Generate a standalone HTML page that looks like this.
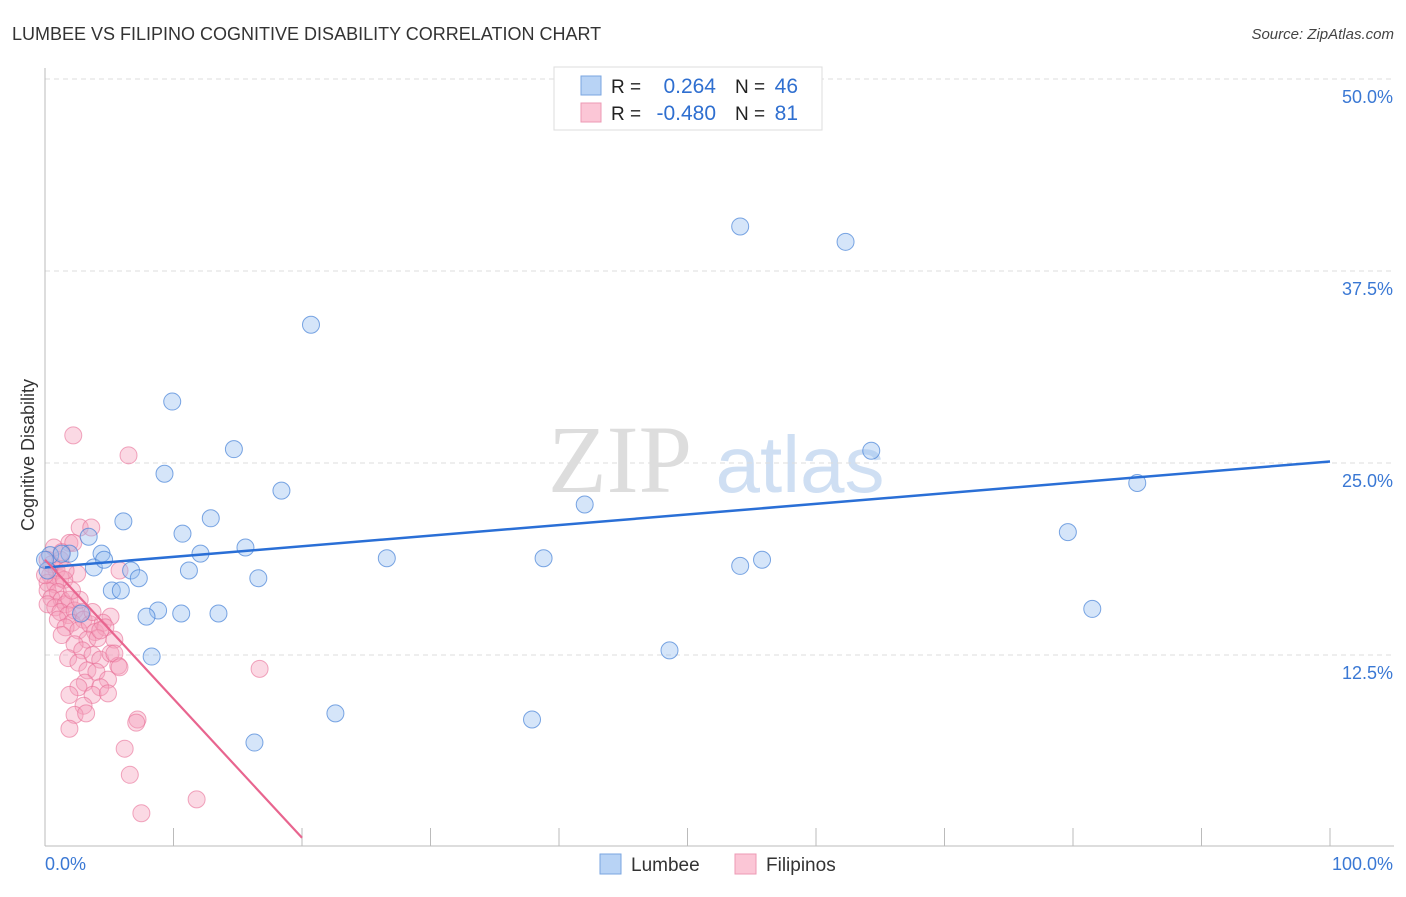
<!DOCTYPE html>
<html><head><meta charset="utf-8"><style>
body{margin:0;background:#fff;font-family:"Liberation Sans",sans-serif}
</style></head><body>
<svg width="1406" height="892" xmlns="http://www.w3.org/2000/svg" style="font-family:'Liberation Sans',sans-serif">
<text x="12" y="40" font-size="18" fill="#333">LUMBEE VS FILIPINO COGNITIVE DISABILITY CORRELATION CHART</text>
<text x="1394" y="39" font-size="15" fill="#444" text-anchor="end" font-style="italic">Source: ZipAtlas.com</text>
<text x="620" y="492" font-size="96" fill="#ddd" font-family="Liberation Serif,serif" text-anchor="middle">ZIP</text>
<text x="800" y="492" font-size="80" fill="#cfdff3" text-anchor="middle">atlas</text>
<text transform="translate(34,455) rotate(-90)" font-size="18" fill="#333" text-anchor="middle">Cognitive Disability</text>
<g id="grid"></g><g id="axes"></g><g id="pink"></g><g id="blue"></g><g id="lines"></g>
<g>
<rect x="554" y="67" width="268" height="63" fill="#fff" stroke="#ddd"/>
<rect x="581" y="76" width="20" height="19" fill="#b8d3f5" stroke="#7aa6e0"/>
<rect x="581" y="103" width="20" height="19" fill="#fbc6d6" stroke="#ec9ab4"/>
<text x="611" y="93" font-size="19" fill="#222">R =</text><text x="716" y="93" font-size="21" fill="#2f6fd0" text-anchor="end">0.264</text>
<text x="735" y="93" font-size="19" fill="#222">N =</text><text x="798" y="93" font-size="21" fill="#2f6fd0" text-anchor="end">46</text>
<text x="611" y="120" font-size="19" fill="#222">R =</text><text x="716" y="120" font-size="21" fill="#2f6fd0" text-anchor="end">-0.480</text>
<text x="735" y="120" font-size="19" fill="#222">N =</text><text x="798" y="120" font-size="21" fill="#2f6fd0" text-anchor="end">81</text>
</g>
<g>
<rect x="600" y="854" width="21" height="20" fill="#b8d3f5" stroke="#7aa6e0"/>
<text x="631" y="871" font-size="19" fill="#333">Lumbee</text>
<rect x="735" y="854" width="21" height="20" fill="#fbc6d6" stroke="#ec9ab4"/>
<text x="766" y="871" font-size="19" fill="#333">Filipinos</text>
</g>
</svg>
<script>
const yTicks=[12.5,25,37.5,50];
const yTickLabels=["12.5%","25.0%","37.5%","50.0%"];
const xTickLabels=["0.0%","100.0%"];
const blueX=[54.1,62.3,20.7,9.9,14.7,64.3,9.3,18.4,85.0,42.0,6.1,12.9,10.7,3.4,79.6,1.9,4.4,12.1,15.6,26.6,38.8,55.8,54.1,3.8,4.6,6.7,11.2,7.3,16.6,5.2,5.9,8.8,7.9,10.6,13.5,2.8,81.5,8.3,48.6,22.6,37.9,16.3,0.4,1.3,0.2,0];
const blueY=[40.4,39.4,34.0,29.0,25.9,25.8,24.3,23.2,23.7,22.3,21.2,21.4,20.4,20.2,20.5,19.1,19.1,19.1,19.5,18.8,18.8,18.7,18.3,18.2,18.7,18.0,18.0,17.5,17.5,16.7,16.7,15.4,15.0,15.2,15.2,15.2,15.5,12.4,12.8,8.7,8.3,6.8,19.0,19.1,18.0,18.7];
const pinkX=[2.2,6.5,2.7,3.6,1.9,2.2,5.8,2.5,0.2,0.5,0.9,0.4,1.2,0.2,0.8,1.5,0.2,1.0,0.5,1.3,0.2,0.8,1.6,1.9,1.2,1.8,2.3,2.9,1.0,2.1,3.0,1.6,2.6,3.5,3.9,5.1,4.5,4.7,1.3,3.3,2.3,4.1,5.4,1.8,2.9,3.7,4.3,5.1,5.7,2.6,3.3,4.0,4.9,5.4,5.8,3.1,2.6,4.3,3.7,1.9,4.9,3.0,2.3,3.2,1.9,7.2,7.1,6.2,6.6,7.5,11.8,16.7,3.7,1.2,1.6,0.7,1.3,4.3,2.7,2.1,0];
const pinkY=[26.8,25.5,20.8,20.8,19.8,19.8,18.0,17.8,18.7,18.4,18.0,17.7,17.5,17.2,17.1,17.4,16.7,16.6,16.2,16.1,15.8,15.6,15.8,16.1,15.3,15.1,15.4,15.3,14.8,14.6,14.8,14.3,14.1,14.5,14.0,15.0,14.6,14.3,13.8,13.5,13.2,13.6,13.5,12.3,12.8,12.5,12.2,12.6,11.8,12.0,11.5,11.4,10.9,12.6,11.7,10.7,10.4,10.4,9.9,9.9,10.0,9.2,8.6,8.7,7.7,8.3,8.1,6.4,4.7,2.2,3.1,11.6,15.3,18.7,18.0,19.5,19.2,14.1,16.1,16.7,17.7];
const blueLine=[0,18.2,100,25.1];
const pinkLine=[0,18.7,20,0.6];
const NS="http://www.w3.org/2000/svg";
const sx=v=>45+v*12.85, sy=v=>847-v*15.36;
function mk(tag,attrs,parent){const e=document.createElementNS(NS,tag);for(const k in attrs)e.setAttribute(k,attrs[k]);parent.appendChild(e);return e;}
const grid=document.getElementById('grid'),axes=document.getElementById('axes');
yTicks.forEach((t,i)=>{
 const l=mk('line',{x1:45,x2:1394,y1:sy(t),y2:sy(t),stroke:'#ddd','stroke-dasharray':'5,4'},grid);
 
 
 const tx=mk('text',{x:1393,y:sy(t)+24,'font-size':18,fill:'#3a78d4','text-anchor':'end'},axes);
 tx.textContent=yTickLabels[i];
 
 
});
mk('line',{x1:45,x2:45,y1:68,y2:846,stroke:'#bbb'},axes);
mk('line',{x1:45,x2:1394,y1:846,y2:846,stroke:'#bbb'},axes);
for(let i=0;i<=10;i++){const t=mk('line',{x1:sx(i*10),x2:sx(i*10),y1:828,y2:846,stroke:'#bbb'},axes);
 
 }
const x0=mk('text',{x:45,y:870,'font-size':18,fill:'#3a78d4'},axes);x0.textContent=xTickLabels[0];


const x1=mk('text',{x:1393,y:870,'font-size':18,fill:'#3a78d4','text-anchor':'end'},axes);x1.textContent=xTickLabels[1];


const pg=document.getElementById('pink');
pinkX.forEach((x,i)=>{const c=mk('circle',{cx:sx(x),cy:sy(pinkY[i]),r:8.5,fill:'rgba(246,160,187,0.4)',stroke:'rgba(232,110,150,0.6)','stroke-width':1},pg);
 
 });
const bg=document.getElementById('blue');
blueX.forEach((x,i)=>{const c=mk('circle',{cx:sx(x),cy:sy(blueY[i]),r:8.5,fill:'rgba(150,190,240,0.4)',stroke:'rgba(70,130,215,0.7)','stroke-width':1},bg);
 
 });
const lg=document.getElementById('lines');
const bl=mk('line',{x1:sx(blueLine[0]),y1:sy(blueLine[1]),x2:sx(blueLine[2]),y2:sy(blueLine[3]),stroke:'#2a6fd6','stroke-width':2.5},lg);


const pl=mk('line',{x1:sx(pinkLine[0]),y1:sy(pinkLine[1]),x2:sx(pinkLine[2]),y2:sy(pinkLine[3]),stroke:'#e8658f','stroke-width':2.2},lg);


</script>
</body></html>
